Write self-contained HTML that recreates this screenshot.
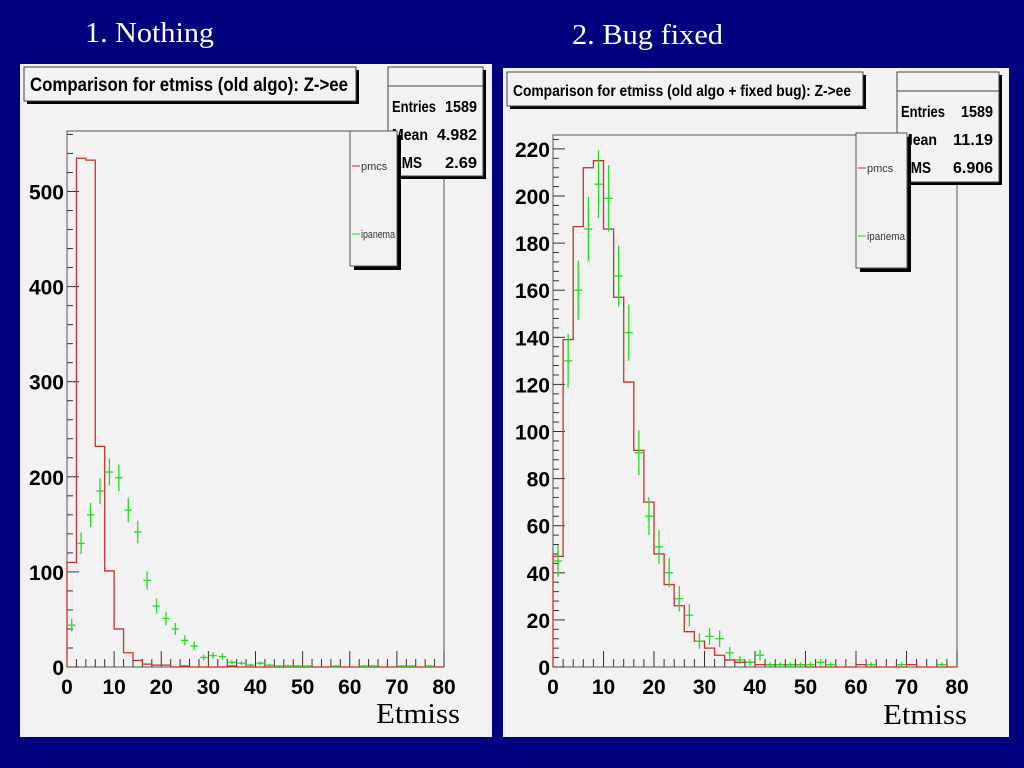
<!DOCTYPE html>
<html><head><meta charset="utf-8"><style>
html,body{margin:0;padding:0;background:#02027e;width:1024px;height:768px;overflow:hidden}
svg{display:block}
.h{font-family:"Liberation Serif",serif;fill:#fff}
.t{font-family:"Liberation Sans",sans-serif;font-weight:bold;fill:#000}
</style></head><body>
<svg id="s" width="1024" height="768">
<text class="h" x="85" y="42" font-size="29" textLength="129" lengthAdjust="spacingAndGlyphs">1. Nothing</text>
<text class="h" x="572" y="44" font-size="29" textLength="151" lengthAdjust="spacingAndGlyphs">2. Bug fixed</text>
</svg>
<script>
const binsX = [0,80];
const leftPmcs = [110,535,533,232,101,40,15,7,3,2,2,0,1,0,0,0,0,1,0,0,0,0,0,0,0,0,0,0,0,0,0,0,0,0,0,0,0,0,0,0];
const leftIpanema = [44,130,160,185,205,199,165,142,91,64,51,40,28,22,10,12,11,5,4,2,4,2,1,1,1,1,0,0,1,0,0,1,1,0,0,1,1,0,1,0];
const rightPmcs = [47,139,187,212,215,186,157,121,92,70,48,35,26,15,11,8,5,3,2,2,1,1,1,1,1,0,0,0,0,0,1,0,0,0,0,1,0,0,0,0];
const rightIpanema = [45,130,160,186,205,199,166,142,91,64,51,40,29,22,11,13,12,6,3,2,5,1,1,1,1,1,2,1,0,0,0,1,0,0,1,0,0,0,1,0];
const xTicks = [0,10,20,30,40,50,60,70,80];
const leftYTicks = [0,100,200,300,400,500];
const rightYTicks = [0,20,40,60,80,100,120,140,160,180,200,220];
const leftStats = ["1589","4.982","2.69"];
const rightStats = ["1589","11.19","6.906"];

const NS="http://www.w3.org/2000/svg", svg=document.getElementById('s');
function el(tag,attrs,parent,text){const e=document.createElementNS(NS,tag);for(const k in attrs)e.setAttribute(k,attrs[k]);if(text!==undefined)e.textContent=text;(parent||svg).appendChild(e);return e;}

function panel(cfg){
  const g=el('g',{});
  
  
  const bg=el('rect',{x:cfg.px,y:cfg.py,width:cfg.pw,height:cfg.ph,fill:'#f2f2f2'},g);
  
  
  const x0=cfg.fx0,x1=cfg.fx1,yb=cfg.fy0,yt=cfg.fyt;
  const sx=v=>x0+(v-binsX[0])/(binsX[1]-binsX[0])*(x1-x0);
  const sy=v=>yb-v*cfg.k;
  const fr=el('rect',{x:x0,y:yt,width:x1-x0,height:yb-yt,fill:'none',stroke:'#555','stroke-width':1},g);
  
  
  for(let v=0;v<=80;v+=2){const big=v%10===0;el('line',{x1:sx(v),x2:sx(v),y1:yb,y2:yb-(big?16:8),stroke:'#333','stroke-width':1},g);}
  xTicks.forEach(v=>{const t=el('text',{class:'t',x:sx(v),y:yb+27,'text-anchor':'middle','font-size':21},g,String(v));
    
    });
  const ys=cfg.ystep/5;
  for(let v=0;sy(v)>=yt;v+=ys){const big=Math.abs(v/cfg.ystep-Math.round(v/cfg.ystep))<1e-6;el('line',{x1:x0,x2:x0+(big?12:6),y1:sy(v),y2:sy(v),stroke:'#333'},g);}
  cfg.yTicks.forEach(v=>{const t=el('text',{class:'t',x:x0-3,y:sy(v)+8,'text-anchor':'end','font-size':21},g,String(v));
    
    });
  let d='M'+sx(0)+','+yb;
  const bw=(binsX[1]-binsX[0])/cfg.pm.length;
  cfg.pm.forEach((v,i)=>{d+=' L'+sx(i*bw)+','+sy(v)+' L'+sx((i+1)*bw)+','+sy(v);});
  d+=' L'+sx(80)+','+yb;
  const h=el('path',{d:d,fill:'none',stroke:'#c8302c','stroke-width':1.3},g);
  
  
  cfg.ip.forEach((v,i)=>{if(v<=0)return;
    const c=(i+0.5)*bw,e=Math.sqrt(v);
    const p=el('g',{stroke:'#22dd22','stroke-width':1.3},g);
    
    
    el('line',{x1:sx(i*bw)+1,x2:sx((i+1)*bw)-1,y1:sy(v),y2:sy(v)},p);
    el('line',{x1:sx(c),x2:sx(c),y1:Math.min(yb,sy(v-e)),y2:sy(v+e)},p);
  });
  const tb=el('g',{},g);
  
  
  el('rect',{x:cfg.tx+3,y:cfg.ty+3,width:cfg.tw,height:cfg.th,fill:'#000'},tb);
  el('rect',{x:cfg.tx,y:cfg.ty,width:cfg.tw,height:cfg.th,fill:'#f2f2f2',stroke:'#444'},tb);
  el('text',{class:'t',x:cfg.tx+6,y:cfg.ty+cfg.th/2+7,'font-size':cfg.tfs,textLength:cfg.tl,lengthAdjust:'spacingAndGlyphs'},tb,cfg.title);
  const sb=el('g',{},g);
  
  
  el('rect',{x:cfg.sbx+3,y:cfg.sby+3,width:cfg.sbw,height:cfg.sbh,fill:'#000'},sb);
  el('rect',{x:cfg.sbx,y:cfg.sby,width:cfg.sbw,height:cfg.sbh,fill:'#f2f2f2',stroke:'#444'},sb);
  el('line',{x1:cfg.sbx,x2:cfg.sbx+cfg.sbw,y1:cfg.sby+19,y2:cfg.sby+19,stroke:'#444'},sb);
  ["Entries","Mean","RMS"].forEach((n,i)=>{const yy=cfg.sby+45+i*28;
    el('text',{class:'t',x:cfg.sbx+4,y:yy,'font-size':16,textLength:[44,36,30][i],lengthAdjust:'spacingAndGlyphs'},sb,n);
    el('text',{class:'t',x:cfg.sbx+cfg.sbw-6,y:yy,'font-size':16,'text-anchor':'end',textLength:cfg.stats[i].length*8,lengthAdjust:'spacingAndGlyphs'},sb,cfg.stats[i]);});
  const lg=el('g',{},g);
  
  
  el('rect',{x:cfg.lx+4,y:cfg.ly+4,width:cfg.lw,height:cfg.lh,fill:'#000'},lg);
  el('rect',{x:cfg.lx,y:cfg.ly,width:cfg.lw,height:cfg.lh,fill:'#f2f2f2',stroke:'#555'},lg);
  el('line',{x1:cfg.lx+2,x2:cfg.lx+10,y1:cfg.ly+35,y2:cfg.ly+35,stroke:'#c8302c'},lg);
  el('text',{x:cfg.lx+11,y:cfg.ly+39,'font-size':11,'font-family':'Liberation Sans, sans-serif',fill:'#333'},lg,'pmcs');
  el('line',{x1:cfg.lx+2,x2:cfg.lx+10,y1:cfg.ly+103,y2:cfg.ly+103,stroke:'#22dd22'},lg);
  el('text',{x:cfg.lx+11,y:cfg.ly+107,'font-size':11,'font-family':'Liberation Sans, sans-serif',fill:'#333',textLength:cfg.lw-13,lengthAdjust:'spacingAndGlyphs'},lg,'ipanema');
  const xl=el('text',{x:cfg.etx,y:cfg.ety,'font-size':28,'font-family':'Liberation Serif, serif',fill:'#000',textLength:84,lengthAdjust:'spacingAndGlyphs'},g,'Etmiss');
  
  
}
panel({name:'left-chart',px:20,py:64,pw:472,ph:673,fx0:67,fx1:444,fy0:667,fyt:131,k:0.951,ystep:100,yTicks:leftYTicks,
  pm:leftPmcs,ip:leftIpanema,title:'Comparison for etmiss (old algo): Z->ee',tx:24,ty:67,tw:332,th:34,tfs:19,tl:318,
  sbx:388,sby:67,sbw:95,sbh:109,stats:leftStats,lx:350,ly:131,lw:47,lh:135,etx:376,ety:723});
panel({name:'right-chart',px:503,py:68,pw:506,ph:669,fx0:553,fx1:957,fy0:667,fyt:135,k:2.355,ystep:20,yTicks:rightYTicks,
  pm:rightPmcs,ip:rightIpanema,title:'Comparison for etmiss (old algo + fixed bug): Z->ee',tx:507,ty:72,tw:356,th:34,tfs:16,tl:338,
  sbx:897,sby:72,sbw:102,sbh:110,stats:rightStats,lx:856,ly:133,lw:51,lh:135,etx:883,ety:724});
</script>
</body></html>
